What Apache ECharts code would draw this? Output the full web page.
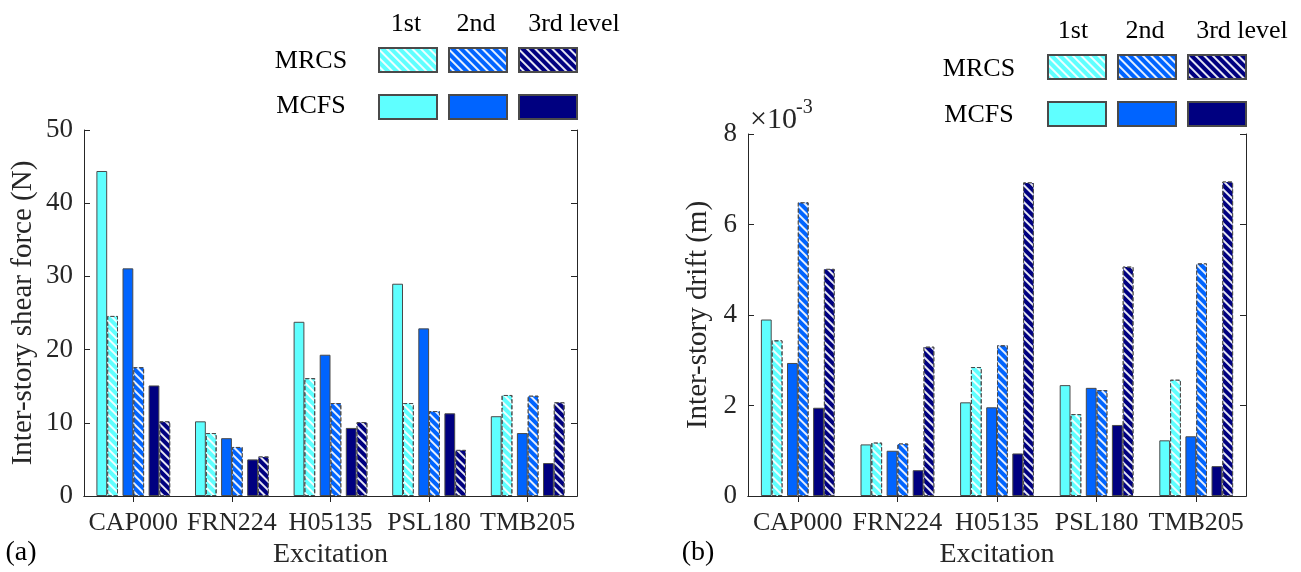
<!DOCTYPE html>
<html>
<head>
<meta charset="utf-8">
<script src="https://cdn.jsdelivr.net/npm/echarts@6/dist/echarts.min.js"></script>
<style>
  html, body { margin: 0; padding: 0; background: #fff; }
  #chart { width: 1301px; height: 572px; }
</style>
</head>
<body>
<div id="chart"></div>
<script>
// excitation records
const categories = ["CAP000", "FRN224", "H05135", "PSL180", "TMB205"];

// (a) inter-story shear force, N
const forceMCFS1 = [44.4, 10.2, 23.8, 29.0, 10.9];
const forceMRCS1 = [24.6, 8.6, 16.1, 12.7, 13.8];
const forceMCFS2 = [31.1, 7.9, 19.3, 22.9, 8.6];
const forceMRCS2 = [17.6, 6.7, 12.7, 11.6, 13.7];
const forceMCFS3 = [15.1, 5.0, 9.3, 11.3, 4.5];
const forceMRCS3 = [10.2, 5.4, 10.1, 6.3, 12.8];

// (b) inter-story drift, m
const driftMCFS1 = [0.00390, 0.00114, 0.00207, 0.00245, 0.00123];
const driftMRCS1 = [0.00344, 0.00118, 0.00285, 0.00181, 0.00257];
const driftMCFS2 = [0.00294, 0.00100, 0.00196, 0.00239, 0.00132];
const driftMRCS2 = [0.00649, 0.00116, 0.00333, 0.00234, 0.00514];
const driftMCFS3 = [0.00195, 0.00057, 0.00094, 0.00157, 0.00066];
const driftMRCS3 = [0.00502, 0.00330, 0.00693, 0.00507, 0.00695];

const levelColors = ["#5fffff", "#0064ff", "#000080"];
const levelNames = ["1st", "2nd", "3rd level"];

const serif = "'Liberation Serif', 'DejaVu Serif', serif";
const txt = "#262626";
const barW = 10.8;
const gapW = 4.5;

var chart = echarts.init(document.getElementById("chart"));

function barSeries(name, data, color, hatched, gi) {
  var style = {
    color: color,
    borderColor: "#4a4a4a",
    borderWidth: 1,
    borderType: hatched ? [4, 2] : "solid"
  };
  if (hatched) {
    // white "\" hatching like the MATLAB hatchfill
    style.decal = {
      symbol: "rect",
      symbolSize: 1,
      color: "rgba(255,255,255,0.9)",
      dashArrayX: [1, 0],
      dashArrayY: [1.3, 4],
      rotation: Math.PI / 4
    };
  }
  return {
    name: name,
    type: "bar",
    xAxisIndex: gi * 2,
    yAxisIndex: gi * 2,
    data: data,
    barWidth: barW,
    barGap: "0%",
    itemStyle: style,
    emphasis: { disabled: true },
    animation: false
  };
}

// empty series, only used to open the gap between the level pairs
function spacer(gi) {
  return {
    type: "bar",
    xAxisIndex: gi * 2,
    yAxisIndex: gi * 2,
    data: [],
    barWidth: gapW,
    barGap: "0%",
    silent: true,
    animation: false
  };
}

function groupSeries(sets, gi) {
  var out = [];
  for (var i = 0; i < 3; i++) {
    if (i > 0) out.push(spacer(gi));
    out.push(barSeries("MCFS " + levelNames[i], sets[i][0], levelColors[i], false, gi));
    out.push(barSeries("MRCS " + levelNames[i], sets[i][1], levelColors[i], true, gi));
  }
  return out;
}

var series = []
  .concat(groupSeries([[forceMCFS1, forceMRCS1], [forceMCFS2, forceMRCS2], [forceMCFS3, forceMRCS3]], 0))
  .concat(groupSeries([[driftMCFS1, driftMRCS1], [driftMCFS2, driftMRCS2], [driftMCFS3, driftMRCS3]], 1));

function xAxes(gi, name) {
  return [
    {
      type: "category", gridIndex: gi, data: categories, position: "bottom",
      name: name, nameLocation: "middle", nameGap: 42,
      nameTextStyle: { fontFamily: serif, fontSize: 28, color: txt },
      axisLine: { show: true, lineStyle: { color: txt, width: 1 } },
      axisTick: { show: true, inside: true, alignWithLabel: true, interval: 0, length: 6, lineStyle: { color: txt } },
      axisLabel: { interval: 0, margin: 14, fontFamily: serif, fontSize: 26, color: txt },
      splitLine: { show: false }
    },
    {
      type: "category", gridIndex: gi, data: categories, position: "top",
      axisLine: { show: true, lineStyle: { color: txt, width: 1 } },
      axisTick: { show: true, inside: true, alignWithLabel: true, interval: 0, length: 6, lineStyle: { color: txt } },
      axisLabel: { show: false },
      splitLine: { show: false }
    }
  ];
}

function yAxes(gi, name, max, interval, fmt, nameGap) {
  return [
    {
      type: "value", gridIndex: gi, min: 0, max: max, interval: interval, position: "left",
      name: name, nameLocation: "middle", nameGap: nameGap,
      nameTextStyle: { fontFamily: serif, fontSize: 29, color: txt },
      axisLine: { show: true, lineStyle: { color: txt, width: 1 } },
      axisTick: { show: true, inside: true, length: 6, lineStyle: { color: txt } },
      axisLabel: { margin: 11, fontFamily: serif, fontSize: 27, color: txt, formatter: fmt },
      splitLine: { show: false }
    },
    {
      type: "value", gridIndex: gi, min: 0, max: max, interval: interval, position: "right",
      axisLine: { show: true, lineStyle: { color: txt, width: 1 } },
      axisTick: { show: true, inside: true, length: 6, lineStyle: { color: txt } },
      axisLabel: { show: false },
      splitLine: { show: false }
    }
  ];
}

function legendRow(names, left, top) {
  return {
    data: names,
    left: left,
    top: top,
    orient: "horizontal",
    icon: "rect",
    itemWidth: 58,
    itemHeight: 24,
    itemGap: 10,
    selectedMode: false,
    padding: 0,
    formatter: function () { return ""; },
    textStyle: { fontSize: 1 }
  };
}

function label(text, x, y, size) {
  return {
    type: "text", x: x, y: y, silent: true,
    style: { text: text, font: size + "px " + serif, fill: "#000", align: "center", verticalAlign: "middle" }
  };
}

var mrcsNames = levelNames.map(function (n) { return "MRCS " + n; });
var mcfsNames = levelNames.map(function (n) { return "MCFS " + n; });

var option = {
  backgroundColor: "#fff",
  animation: false,
  grid: [
    { left: 84, top: 130, width: 493, height: 366, outerBoundsMode: "none" },
    { left: 748, top: 134, width: 498, height: 362, outerBoundsMode: "none" }
  ],
  xAxis: xAxes(0, "Excitation").concat(xAxes(1, "Excitation")),
  yAxis: yAxes(0, "Inter-story shear force (N)", 50, 10, null, 46)
    .concat(yAxes(1, "Inter-story drift (m)", 0.008, 0.002, function (v) { return Math.round(v * 1000); }, 35)),
  legend: [
    legendRow(mrcsNames, 378, 47),
    legendRow(mcfsNames, 378, 94),
    legendRow(mrcsNames, 1047, 54),
    legendRow(mcfsNames, 1047, 101)
  ],
  graphic: [
    label("1st", 406, 24, 26),
    label("2nd", 476, 24, 26),
    label("3rd level", 574, 24, 26),
    label("MRCS", 311, 61, 26),
    label("MCFS", 311, 106, 26),
    label("1st", 1073, 31, 26),
    label("2nd", 1145, 31, 26),
    label("3rd level", 1242, 31, 26),
    label("MRCS", 979, 69, 26),
    label("MCFS", 979, 115, 26),
    label("(a)", 21, 553, 28),
    label("(b)", 698, 553, 28),
    { type: "text", x: 750, y: 120, silent: true,
      style: { text: "\u00d710", font: "30px " + serif, fill: txt, align: "left", verticalAlign: "middle" } },
    { type: "text", x: 796, y: 108, silent: true,
      style: { text: "-3", font: "20px " + serif, fill: txt, align: "left", verticalAlign: "middle" } }
  ],
  series: series
};

chart.setOption(option);
</script>
</body>
</html>
